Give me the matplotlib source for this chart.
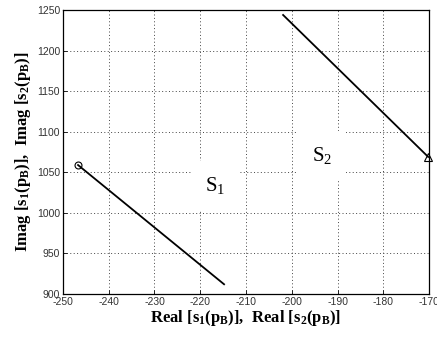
import matplotlib
matplotlib.use("Agg")
import matplotlib.pyplot as plt

plt.rcParams['mathtext.fontset'] = 'custom'
plt.rcParams['mathtext.rm'] = 'Liberation Serif:bold'
plt.rcParams['mathtext.it'] = 'Liberation Serif:bold'
plt.rcParams['mathtext.bf'] = 'Liberation Serif:bold'
plt.rcParams['mathtext.sf'] = 'Liberation Serif'

# data
s1_real = [-246.7, -214.8]
s1_imag = [1059, 912]
s2_real = [-201.9, -170.2]
s2_imag = [1244, 1069]
xticks = [-250, -240, -230, -220, -210, -200, -190, -180, -170]
yticks = [900, 950, 1000, 1050, 1100, 1150, 1200, 1250]

fig = plt.figure(figsize=(4.37, 3.37), dpi=100)
ax = fig.add_axes([0.144, 0.1276, 0.838, 0.8424])

ax.plot(s1_real, s1_imag, color='black', lw=1.3, zorder=3)
ax.plot(s2_real, s2_imag, color='black', lw=1.3, zorder=3)
ax.plot(s1_real[0], s1_imag[0], marker='o', mfc='none', mec='black', ms=5, mew=0.8, zorder=4)
ax.plot(s2_real[-1], s2_imag[-1], marker='^', mfc='none', mec='black', ms=6, mew=0.8, zorder=4, clip_on=False)

ax.set_xlim(-250, -170)
ax.set_ylim(900, 1250)
ax.set_xticks(xticks)
ax.set_yticks(yticks)
ax.set_xticklabels([str(v) for v in xticks], fontfamily='Liberation Sans', fontsize=7.5, color='#333333')
ax.set_yticklabels([str(v) for v in yticks], fontfamily='Liberation Sans', fontsize=7.5, color='#333333')
ax.tick_params(direction='in', length=3, width=0.6, top=False, right=False, pad=2)
ax.grid(True, linestyle=(0, (1, 2.5)), color='#444444', lw=0.7)
for sp in ax.spines.values():
    sp.set_linewidth(0.9)
    sp.set_color('black')

ax.text(-216.8, 1034, r'S$_\mathsf{1}$', fontfamily='Liberation Serif', fontsize=15, ha='center', va='center',
        bbox=dict(facecolor='white', edgecolor='none', pad=10), zorder=2)
ax.text(-193.4, 1071, r'S$_\mathsf{2}$', fontfamily='Liberation Serif', fontsize=15, ha='center', va='center',
        bbox=dict(facecolor='white', edgecolor='none', pad=10), zorder=2)

ax.set_xlabel(r'Real [s$_1$(p$_B$)],  Real [s$_2$(p$_B$)]', fontfamily='Liberation Serif',
              fontweight='bold', fontsize=12, labelpad=1)
ax.set_ylabel(r'Imag [s$_1$(p$_B$)],  Imag [s$_2$(p$_B$)]', fontfamily='Liberation Serif',
              fontweight='bold', fontsize=12, labelpad=3)

fig.savefig('out.png', dpi=100)
